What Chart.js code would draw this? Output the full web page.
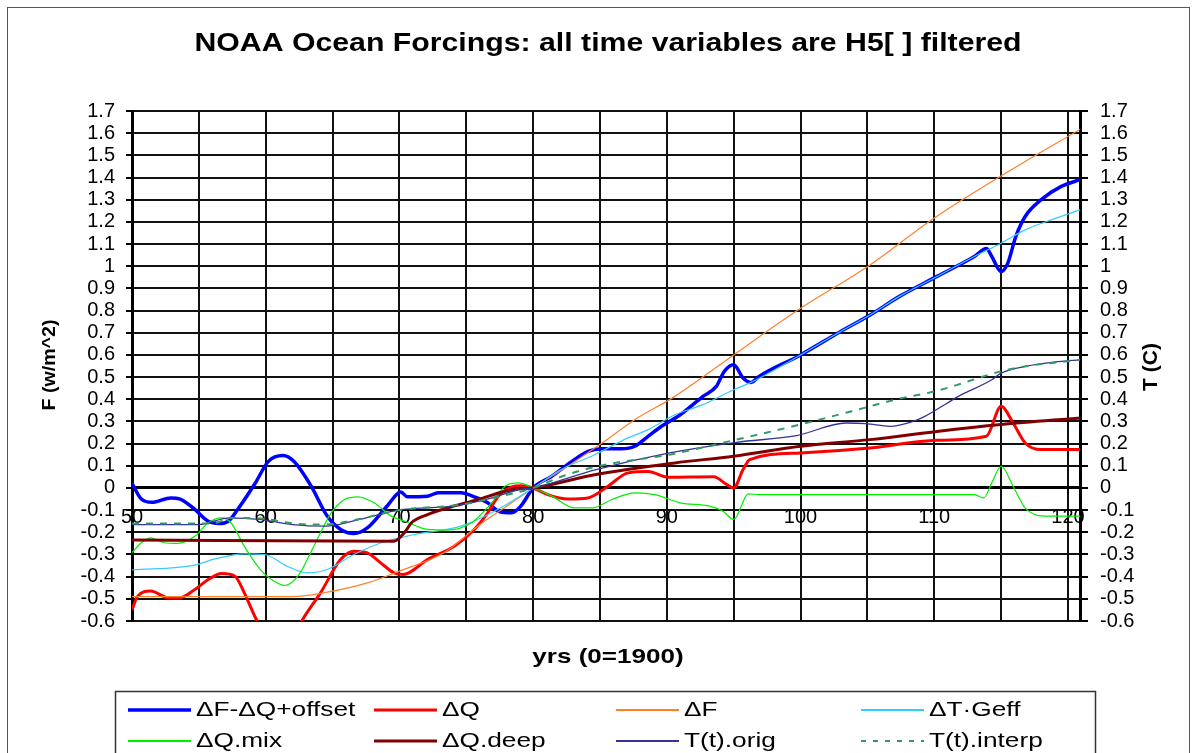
<!DOCTYPE html>
<html>
<head>
<meta charset="utf-8">
<script src="https://cdn.jsdelivr.net/npm/chart.js@4.4.1/dist/chart.umd.min.js"></script>
<style>
  html, body { margin: 0; padding: 0; background: #fff; }
  canvas { display: block; }
</style>
</head>
<body>
<canvas id="c" width="1197" height="753"></canvas>
<script>
// ---------- data (years since 1900) ----------
const chartTitle = "NOAA Ocean Forcings: all time variables are H5[ ] filtered";
const xTitle = "yrs (0=1900)";
const yTitleLeft = "F (w/m^2)";
const yTitleRight = "T (C)";

const xGridTicks = [50, 55, 60, 65, 70, 75, 80, 85, 90, 95, 100, 105, 110, 115, 120];
const xLabelTicks = [50, 60, 70, 80, 90, 100, 110, 120];
const yTicks = [-0.6, -0.5, -0.4, -0.3, -0.2, -0.1, 0, 0.1, 0.2, 0.3, 0.4, 0.5, 0.6, 0.7, 0.8, 0.9, 1, 1.1, 1.2, 1.3, 1.4, 1.5, 1.6, 1.7];

const seriesNames = ["ΔF-ΔQ+offset", "ΔQ", "ΔF", "ΔT·Geff", "ΔQ.mix", "ΔQ.deep", "T(t).orig", "T(t).interp"];

const offsetYrs = [50, 50.7, 51.5, 52.9, 53.6, 54.7, 55.7, 56.5, 57.2, 57.9, 59.2, 60.2, 61.3, 62.1, 63.4, 64.6, 65.6, 66.6, 67.6, 69.1, 70.1, 70.6, 72.1, 72.9, 74.6, 75.6, 76.6, 77.4, 78.4, 79.1, 80, 81.4, 82.9, 84.1, 85.1, 86.6, 87.6, 88.6, 89.6, 91, 92.7, 93.7, 94.3, 95, 95.7, 96.3, 96.9, 100, 103, 105.2, 107.4, 110.2, 113, 113.9, 114.3, 115, 115.5, 116.1, 116.8, 118, 119.5, 120.9];
const offsetVals = [0.02, -0.05, -0.065, -0.045, -0.05, -0.097, -0.15, -0.16, -0.15, -0.097, 0.02, 0.12, 0.146, 0.12, 0.008, -0.127, -0.187, -0.205, -0.18, -0.08, -0.018, -0.04, -0.037, -0.022, -0.022, -0.04, -0.067, -0.105, -0.112, -0.08, 0, 0.053, 0.12, 0.165, 0.177, 0.177, 0.188, 0.233, 0.278, 0.33, 0.413, 0.458, 0.526, 0.556, 0.496, 0.476, 0.503, 0.6, 0.706, 0.78, 0.864, 0.954, 1.044, 1.08, 1.044, 0.976, 1.014, 1.134, 1.224, 1.3, 1.36, 1.39];

const dQYrs = [50, 50.4, 51.4, 52.7, 53.6, 54.7, 55.7, 56.7, 57.7, 58.4, 59.3, 60.5, 61.7, 62.7, 64.1, 65.6, 66.6, 67.6, 68.6, 69.6, 70.3, 72.1, 74.1, 75.6, 76.6, 77.4, 78.4, 79.1, 80, 81.1, 82.6, 84.1, 85.6, 87.1, 88.6, 90.1, 93.5, 94.5, 95, 95.7, 96.2, 100, 105.2, 110.2, 113.9, 115, 115.9, 116.8, 118, 120.9];
const dQVals = [-0.55, -0.49, -0.465, -0.495, -0.495, -0.458, -0.413, -0.386, -0.398, -0.473, -0.593, -0.7, -0.72, -0.6, -0.473, -0.323, -0.285, -0.293, -0.338, -0.383, -0.39, -0.323, -0.263, -0.187, -0.112, -0.037, 0.005, 0.01, 0, -0.03, -0.05, -0.045, 0.008, 0.068, 0.074, 0.048, 0.05, 0.015, 0, 0.083, 0.128, 0.158, 0.18, 0.215, 0.233, 0.368, 0.293, 0.203, 0.173, 0.173];

const dFYrs = [50, 62, 64.6, 67.6, 70, 73.4, 75.9, 78.4, 80, 82.6, 85.1, 87.6, 90.6, 95, 100, 105.2, 110, 115, 120.9];
const dFVals = [-0.49, -0.49, -0.47, -0.428, -0.375, -0.29, -0.17, -0.067, 0, 0.098, 0.2, 0.308, 0.413, 0.6, 0.81, 1.006, 1.217, 1.407, 1.617];

const dTGYrs = [50, 54.7, 56.2, 58.4, 59.9, 61.6, 63.1, 64.6, 66.6, 68.6, 70.4, 71.1, 74.6, 77.1, 80, 82.1, 84.6, 87.1, 88.6, 90.6, 92.7, 95, 96.3, 100, 103, 105.2, 107.4, 110.2, 113, 115, 116.8, 118.8, 120.9];
const dTGVals = [-0.37, -0.348, -0.32, -0.297, -0.3, -0.353, -0.383, -0.368, -0.3, -0.248, -0.22, -0.21, -0.172, -0.105, 0, 0.083, 0.15, 0.226, 0.263, 0.33, 0.376, 0.443, 0.476, 0.6, 0.706, 0.78, 0.864, 0.954, 1.044, 1.104, 1.164, 1.21, 1.254];

const mixYrs = [50, 50.7, 51.4, 52.4, 53.4, 54.7, 55.7, 56.7, 57.4, 58.4, 59.6, 60.9, 61.4, 62.4, 63.6, 64.9, 65.9, 66.9, 68.1, 69.4, 70.4, 72.1, 73.6, 75.4, 76.9, 77.9, 78.9, 80, 81.4, 83.1, 84.4, 85.9, 87.6, 89.1, 91, 93.2, 94.2, 95, 96.1, 96.9, 113, 113.7, 114.3, 115, 115.9, 116.8, 118.5, 120.9];
const mixVals = [-0.292, -0.247, -0.225, -0.247, -0.25, -0.218, -0.157, -0.135, -0.157, -0.263, -0.368, -0.43, -0.44, -0.398, -0.263, -0.112, -0.052, -0.04, -0.067, -0.127, -0.15, -0.187, -0.19, -0.157, -0.067, 0.008, 0.023, 0, -0.037, -0.09, -0.09, -0.052, -0.022, -0.03, -0.067, -0.082, -0.105, -0.142, -0.027, -0.03, -0.03, -0.045, 0.023, 0.098, 0.008, -0.09, -0.127, -0.127];

const deepYrs = [50, 69.6, 70.4, 70.9, 72.1, 73.6, 75.9, 77.9, 79, 80, 84.6, 90.6, 95, 100, 105.2, 110.2, 115, 120.9];
const deepVals = [-0.235, -0.24, -0.2, -0.157, -0.12, -0.09, -0.052, -0.015, -0.004, 0, 0.06, 0.113, 0.143, 0.188, 0.218, 0.255, 0.286, 0.316];

const origYrs = [50, 55, 57.3, 59.5, 62, 64.5, 66.5, 69, 70.3, 74, 76.5, 79, 80, 84.7, 90.2, 95.2, 99.7, 103.4, 104.9, 106.7, 108.4, 109.3, 110.9, 111.8, 114.3, 115, 116.8, 119.3, 120.9];
const origVals = [-0.165, -0.165, -0.135, -0.142, -0.165, -0.172, -0.15, -0.112, -0.097, -0.082, -0.052, -0.007, 0, 0.083, 0.158, 0.206, 0.236, 0.293, 0.29, 0.278, 0.3, 0.323, 0.38, 0.413, 0.488, 0.518, 0.548, 0.57, 0.578];

const interpYrs = [50, 56, 57.5, 60, 62, 64.5, 67, 70, 74.6, 77, 80, 82.2, 85, 89.5, 90.2, 95.2, 99.9, 104.7, 107.2, 110.2, 115, 117, 120.9];
const interpVals = [-0.16, -0.16, -0.135, -0.14, -0.16, -0.165, -0.14, -0.1, -0.075, -0.045, 0, 0.053, 0.1, 0.143, 0.15, 0.218, 0.285, 0.36, 0.4, 0.438, 0.526, 0.55, 0.578];

// ---------- styles ----------
const styles = [
  { color: '#0000FF', width: 3.5 },
  { color: '#FF0000', width: 3 },
  { color: '#FF7F2A', width: 1.2 },
  { color: '#33CCFF', width: 1.2 },
  { color: '#00EE00', width: 1.2 },
  { color: '#800000', width: 3 },
  { color: '#333399', width: 1.3 },
  { color: '#339966', width: 2, dash: [7, 7] }
];
const xs = [offsetYrs, dQYrs, dFYrs, dTGYrs, mixYrs, deepYrs, origYrs, interpYrs];
const ys = [offsetVals, dQVals, dFVals, dTGVals, mixVals, deepVals, origVals, interpVals];

const datasets = seriesNames.map((name, i) => ({
  label: name,
  data: xs[i].map((x, k) => ({ x: x, y: ys[i][k] })),
  borderColor: styles[i].color,
  backgroundColor: styles[i].color,
  borderWidth: styles[i].width,
  borderDash: styles[i].dash || [],
  pointRadius: 0,
  cubicInterpolationMode: 'monotone',
  fill: false,
  order: seriesNames.length - i
}));

const FONT = "'Liberation Sans', Arial, sans-serif";

function stretchText(ctx, text, x, y, font, sx, align, rot) {
  ctx.save();
  ctx.translate(x, y);
  if (rot) ctx.rotate(rot);
  ctx.scale(sx, 1);
  ctx.font = font;
  ctx.textAlign = align;
  ctx.textBaseline = 'middle';
  ctx.fillStyle = '#000';
  ctx.fillText(text, 0, 0);
  ctx.restore();
}

const deco = {
  id: 'deco',
  beforeDraw(chart) {
    const ctx = chart.ctx;
    ctx.save();
    ctx.fillStyle = '#fff';
    ctx.fillRect(0, 0, chart.width, chart.height);
    ctx.restore();
  },
  afterDraw(chart) {
    const ctx = chart.ctx;
    ctx.save();
    // outer frame
    ctx.strokeStyle = '#555';
    ctx.lineWidth = 1;
    ctx.strokeRect(7.5, 7.5, 1182, 760);
    // titles
    stretchText(ctx, chartTitle, 608, 44, "bold 25px " + FONT, 1.21, 'center', 0);
    stretchText(ctx, xTitle, 608, 657, "bold 21px " + FONT, 1.24, 'center', 0);
    stretchText(ctx, yTitleLeft, 50, 365, "bold 19px " + FONT, 1.03, 'center', -Math.PI / 2);
    stretchText(ctx, yTitleRight, 1151, 367, "bold 20px " + FONT, 1.05, 'center', -Math.PI / 2);
    // legend box
    ctx.strokeStyle = '#333';
    ctx.lineWidth = 1.5;
    ctx.strokeRect(115.5, 691.5, 980, 80);
    const colX = [128, 374, 616, 861];
    const rowY = [710, 741];
    seriesNames.forEach((name, i) => {
      const cx = colX[i % 4], cy = rowY[Math.floor(i / 4)];
      const st = styles[i];
      ctx.save();
      ctx.strokeStyle = st.color;
      ctx.lineWidth = Math.max(st.width, 2);
      ctx.setLineDash(st.dash ? [5, 7] : []);
      ctx.beginPath();
      ctx.moveTo(cx, cy);
      ctx.lineTo(cx + 63, cy);
      ctx.stroke();
      ctx.restore();
      stretchText(ctx, name, cx + 68, cy, "21px " + FONT, 1.25, 'left', 0);
    });
    ctx.restore();
  }
};

const tickFont = { family: FONT, size: 20 };
const fmt = v => String(Math.round(v * 10) / 10);

new Chart(document.getElementById('c'), {
  type: 'line',
  data: { datasets: datasets },
  plugins: [deco],
  options: {
    responsive: false,
    animation: false,
    events: [],
    layout: { padding: { top: 111, bottom: 132, left: 0, right: 0 } },
    plugins: { legend: { display: false }, title: { display: false }, tooltip: { enabled: false } },
    scales: {
      x: {
        type: 'linear',
        min: 50,
        max: 120.9,
        position: { y: 0 },
        afterBuildTicks: s => { s.ticks = xGridTicks.map(v => ({ value: v })); },
        grid: {
          color: '#111',
          lineWidth: 2,
          drawTicks: true,
          tickLength: 6,
          tickColor: c => (c.tick && xLabelTicks.includes(c.tick.value)) ? '#000' : 'rgba(0,0,0,0)'
        },
        border: { display: true, color: '#000', width: 3 },
        ticks: {
          font: tickFont,
          color: '#000',
          padding: 12,
          maxRotation: 0,
          autoSkip: false,
          callback: v => xLabelTicks.includes(v) ? String(v) : ''
        }
      },
      y: {
        type: 'linear',
        position: 'left',
        min: -0.6,
        max: 1.7,
        afterBuildTicks: s => { s.ticks = yTicks.map(v => ({ value: v })); },
        afterFit: s => { s.width = 132; },
        grid: { color: '#111', lineWidth: 2, tickLength: 6, tickColor: '#000' },
        border: { display: true, color: '#000', width: 3 },
        ticks: { font: tickFont, color: '#000', padding: 11, autoSkip: false, callback: fmt }
      },
      y2: {
        type: 'linear',
        position: 'right',
        min: -0.6,
        max: 1.7,
        afterBuildTicks: s => { s.ticks = yTicks.map(v => ({ value: v })); },
        afterFit: s => { s.width = 117; },
        grid: { drawOnChartArea: false, lineWidth: 2, tickLength: 8, tickColor: '#000' },
        border: { display: true, color: '#000', width: 3 },
        ticks: { font: tickFont, color: '#000', padding: 12, autoSkip: false, callback: fmt }
      }
    }
  }
});
</script>
</body>
</html>
